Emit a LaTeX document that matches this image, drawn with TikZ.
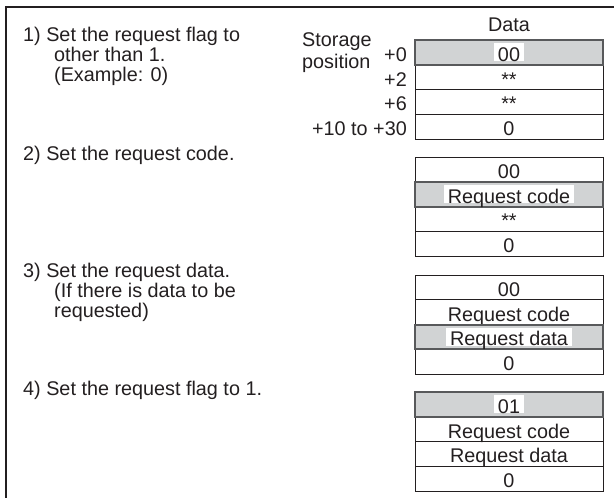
\documentclass[tikz,border=0pt]{standalone}
\usepackage{fontspec}
\setmainfont{Liberation Sans}
\usepackage{xcolor}
\usetikzlibrary{positioning,calc}

\definecolor{ink}{HTML}{231F20}
\definecolor{hlfill}{HTML}{D1D3D4}
\definecolor{hlline}{HTML}{58595B}

\begin{document}
\begin{tikzpicture}[x=1pt, y=-1pt,
    txt/.style={font=\fontsize{19.8}{20}\selectfont, text=ink, inner sep=0pt},
    cell/.style={txt, draw=ink, line width=0.9pt, minimum width=188pt, minimum height=24.75pt,
        outer sep=0pt, text height=18pt, text depth=0pt},
    hl/.style={cell, draw=hlline, fill=hlfill, line width=2pt},
    hltxt/.style={txt, fill=white, inner xsep=4pt, inner ysep=0pt, text height=18pt, text depth=0pt}]
    \useasboundingbox (0,0) rectangle (614,498);

    % Frame
    \draw[ink, line width=1.2pt] (614,7) -- (6,7) -- (6,498);

    % Steps
    \node[txt, anchor=base west] (s1a) at (23,41.5) {1) Set the request flag to};
    \node[txt, anchor=base west] (s1b) at (54,61.5) {other than 1.};
    \node[txt, anchor=base west] (s1c) at (54,81.5) {(Example: 0)};
    \node[txt, anchor=base west] (s2a) at (23,160) {2) Set the request code.};
    \node[txt, anchor=base west] (s3a) at (23,277) {3) Set the request data.};
    \node[txt, anchor=base west] (s3b) at (54,297) {(If there is data to be};
    \node[txt, anchor=base west] (s3c) at (54,317) {requested)};
    \node[txt, anchor=base west] (s4a) at (23,395) {4) Set the request flag to 1.};

    % Table 1
    \node[cell, anchor=north] (ta1) at (509,40) {};
    \node[cell, below=0pt of ta1] (ta2) {**};
    \node[cell, below=0pt of ta2] (ta3) {**};
    \node[cell, below=0pt of ta3] (ta4) {0};
    \node[hl] (ta1h) at (ta1.center) {};
    \node[hltxt] (ta1t) at (ta1.center) {00};
    \node[txt, above=8pt of ta1] (data) {Data};
    \node[txt, anchor=base west] (stor) at (302,46) {Storage};
    \node[txt, anchor=base west] (posn) at (302,68) {position};
    \node[txt, anchor=base east] (off0) at ([xshift=-8pt]ta1.base west) {+0};
    \node[txt, anchor=base east] (off2) at ([xshift=-8pt]ta2.base west) {+2};
    \node[txt, anchor=base east] (off6) at ([xshift=-8pt]ta3.base west) {+6};
    \node[txt, anchor=base east] (off10) at ([xshift=-8pt]ta4.base west) {+10 to +30};

    % Table 2
    \node[cell, anchor=north] (tb1) at (509,157) {00};
    \node[cell, below=0pt of tb1] (tb2) {};
    \node[cell, below=0pt of tb2] (tb3) {**};
    \node[cell, below=0pt of tb3] (tb4) {0};
    \node[hl] (tb2h) at (tb2.center) {};
    \node[hltxt] (tb2t) at (tb2.center) {Request code};

    % Table 3
    \node[cell, anchor=north] (tc1) at (509,275) {00};
    \node[cell, below=0pt of tc1] (tc2) {Request code};
    \node[cell, below=0pt of tc2] (tc3) {};
    \node[cell, below=0pt of tc3] (tc4) {0};
    \node[hl] (tc3h) at (tc3.center) {};
    \node[hltxt] (tc3t) at (tc3.center) {Request data};

    % Table 4
    \node[cell, anchor=north] (td1) at (509,392) {};
    \node[cell, below=0pt of td1] (td2) {Request code};
    \node[cell, below=0pt of td2] (td3) {Request data};
    \node[cell, below=0pt of td3] (td4) {0};
    \node[hl] (td1h) at (td1.center) {};
    \node[hltxt] (td1t) at (td1.center) {01};
\end{tikzpicture}
\end{document}
